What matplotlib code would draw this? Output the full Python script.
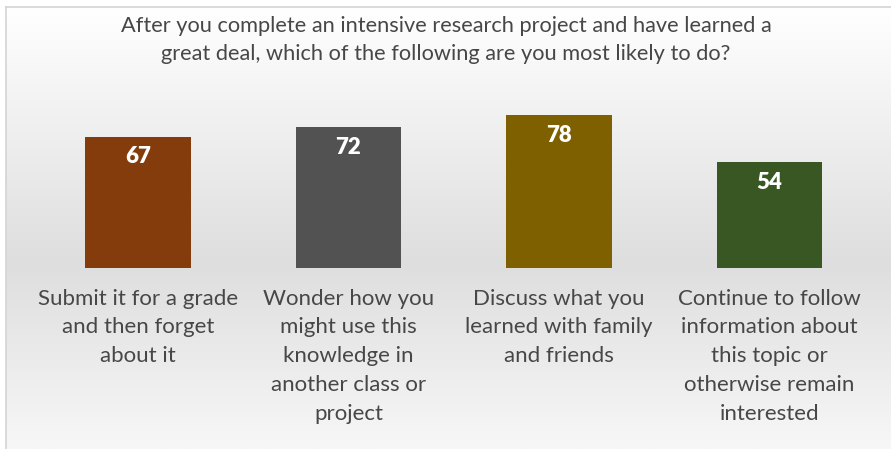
import numpy as np
import matplotlib.pyplot as plt
from matplotlib.colors import LinearSegmentedColormap

title = ("After you complete an intensive research project and have learned a\n"
         "great deal, which of the following are you most likely to do?")
categories = [
    "Submit it for a grade\nand then forget\nabout it",
    "Wonder how you\nmight use this\nknowledge in\nanother class or\nproject",
    "Discuss what you\nlearned with family\nand friends",
    "Continue to follow\ninformation about\nthis topic or\notherwise remain\ninterested",
]
values = [67, 72, 78, 54]
colors = ["#843c0c", "#525252", "#7f6000", "#385723"]

W, H = 891, 449
fig = plt.figure(figsize=(W / 100, H / 100), dpi=100)

# background: vertical gray gradient inside a thin frame
bg = fig.add_axes([0, 0, 1, 1], zorder=0)
bg.set_xlim(0, W)
bg.set_ylim(H, 0)
bg.axis("off")
grad = LinearSegmentedColormap.from_list(
    "bg", [(0.0, "#ffffff"), (0.58, "#dedede"), (1.0, "#f7f7f7")])
ramp = np.linspace(0, 1, 256).reshape(-1, 1)
bg.imshow(ramp, cmap=grad, extent=[6, W + 2, H, 7], aspect="auto")
bg.plot([6, 6], [7, H], color="#d4d4d4", lw=1.2)
bg.plot([6, W], [7, 7], color="#d4d4d4", lw=1.2)

ax = fig.add_axes([32.75 / W, (H - 268) / H, 842 / W, 176 / H], zorder=1)
ax.patch.set_alpha(0)
x = np.arange(len(values))
bars = ax.bar(x, values, width=0.503, color=colors)
ax.set_xlim(-0.5, 3.5)
ax.set_ylim(0, 90)
ax.axis("off")

font = "Lato"
for b, v in zip(bars, values):
    ax.text(b.get_x() + b.get_width() / 2, v - 4.8, str(v), ha="center", va="top",
            color="white", fontsize=16, fontweight="heavy", family=font)

for i, lab in enumerate(categories):
    ax.text(i, -10.5, lab, ha="center", va="top", color="#474747",
            fontsize=16, family=font, linespacing=1.55)

fig.text(446 / W, 1 - 15.5 / H, title, ha="center", va="top", color="#474747",
         fontsize=15.7, family=font, linespacing=1.52)

fig.savefig("out.png", dpi=100)
